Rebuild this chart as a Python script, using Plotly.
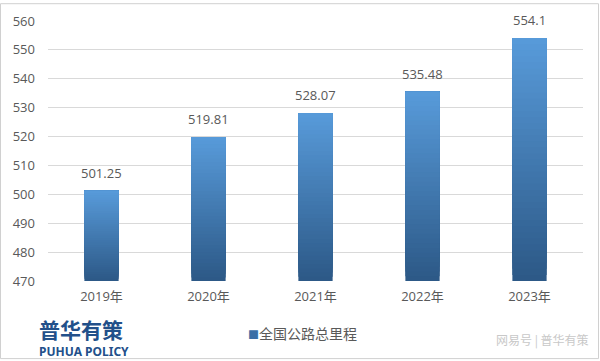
import plotly.graph_objects as go

categories = ["2019年", "2020年", "2021年", "2022年", "2023年"]
values = [501.25, 519.81, 528.07, 535.48, 554.1]
value_labels = ["501.25", "519.81", "528.07", "535.48", "554.1"]
series_name = "全国公路总里程"
y_min, y_max = 470, 560
y_ticks = [470, 480, 490, 500, 510, 520, 530, 540, 550, 560]

top_rgb = (88, 155, 218)
bottom_rgb = (44, 88, 134)
N = 40

W, H = 600, 361
ml, mr, mt, mb = 48, 17, 18, 80
pw, ph = W - ml - mr, H - mt - mb

FONT = "Open Sans, Noto Sans CJK SC, sans-serif"
GRAY = "#595959"

fig = go.Figure()
for i in range(N):
    f = (i + 0.5) / N
    c = tuple(round(bottom_rgb[k] + (top_rgb[k] - bottom_rgb[k]) * f) for k in range(3))
    # each segment runs from its start to the bar top; later (lighter) ones overlay
    fig.add_trace(go.Bar(
        x=categories,
        base=[y_min + (v - y_min) * i / N for v in values],
        y=[(v - y_min) * (N - i) / N for v in values],
        marker=dict(color="rgb(%d,%d,%d)" % c, line=dict(width=0)),
        showlegend=False, hoverinfo="skip",
    ))

for cat, v, lab in zip(categories, values, value_labels):
    fig.add_annotation(
        x=cat, y=v, text=lab, showarrow=False,
        xanchor="center", yanchor="bottom", yshift=7,
        font=dict(family=FONT, size=13, color=GRAY),
    )

fig.update_layout(
    width=W, height=H,
    margin=dict(l=ml, r=mr, t=mt, b=mb),
    paper_bgcolor="white", plot_bgcolor="white",
    barmode="overlay", bargap=0.68,
    font=dict(family=FONT, size=13, color=GRAY),
    showlegend=False,
    xaxis=dict(showgrid=False, showline=False, ticks="", tickfont=dict(size=13, color=GRAY),
               ticklabelstandoff=6),
    yaxis=dict(range=[y_min, y_max], tickvals=y_ticks, showgrid=True, gridcolor="#d9d9d9",
               gridwidth=1, zeroline=False, showline=False, ticks="",
               tickfont=dict(size=13, color=GRAY), ticklabelstandoff=12),
)

# legend-like annotation
fig.add_annotation(
    xref="paper", yref="paper",
    x=(246 - ml) / pw, y=-(334 - mt - ph) / ph,
    xanchor="left", yanchor="middle", showarrow=False,
    text='<span style="color:#3a70a6;font-size:11px">■</span>' + series_name,
    font=dict(family=FONT, size=14, color=GRAY),
)

# logo
fig.add_annotation(
    xref="paper", yref="paper",
    x=(37 - ml) / pw, y=-(330 - mt - ph) / ph,
    xanchor="left", yanchor="middle", showarrow=False,
    text="<b>普华有策</b>",
    font=dict(family="Noto Sans CJK SC, sans-serif", size=21, color="#22508a"),
)
fig.add_annotation(
    xref="paper", yref="paper",
    x=(37 - ml) / pw, y=-(352 - mt - ph) / ph,
    xanchor="left", yanchor="middle", showarrow=False,
    text="<b>PUHUA POLICY</b>",
    font=dict(family="Noto Sans, sans-serif", size=12, color="#22508a"),
)
# watermark
fig.add_annotation(
    xref="paper", yref="paper",
    x=(591 - ml) / pw, y=-(341 - mt - ph) / ph,
    xanchor="right", yanchor="middle", showarrow=False,
    text="网易号 | 普华有策",
    font=dict(family="Noto Sans CJK SC, sans-serif", size=12, color="#c8c8c8"),
)

# outer border
fig.add_shape(
    type="rect", xref="paper", yref="paper",
    x0=-(ml - 0.5) / pw, x1=1 + (mr - 1.5) / pw,
    y0=-(mb - 1.5) / ph, y1=1 + (mt - 0.5) / ph,
    line=dict(color="#d0d0d0", width=1), fillcolor="rgba(0,0,0,0)", layer="below",
)

fig.write_html("out.html")
